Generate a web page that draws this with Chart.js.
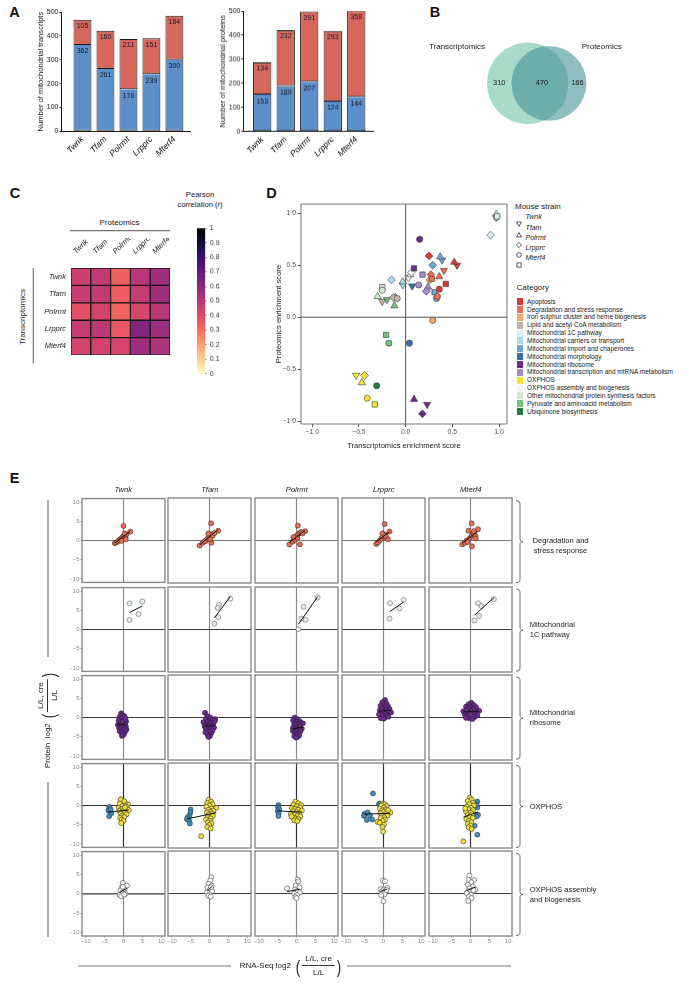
<!DOCTYPE html>
<html><head><meta charset="utf-8"><title>Figure</title>
<script src="https://cdn.jsdelivr.net/npm/chart.js@4.4.1/dist/chart.umd.min.js"></script>
<style>
html,body{margin:0;padding:0;background:#fff;}
#root{position:relative;width:689px;height:988px;overflow:hidden;font-family:"Liberation Sans",Arial,Helvetica,sans-serif;color:#222;}
.t{position:absolute;white-space:nowrap;line-height:1;}
</style></head><body><div id="root"></div>
<script>
// ================= DATA =================
const strains = ['Twnk','Tfam','Polrmt','Lrpprc','Mterf4'];
// Panel A
const transcriptsBlue = [362,261,176,239,300];
const transcriptsRed  = [105,160,211,151,184];
const proteinsBlue = [153,189,207,124,144];
const proteinsRed  = [134,232,291,293,358];
const barTicks = [0,100,200,300,400,500];
// Panel B
const vennSetNames = ['Transcriptomics','Proteomics'];
const vennCounts = [310,470,186]; // transcriptomics only, both, proteomics only
// Panel C (rows: transcriptomics, columns: proteomics)
const heatTwnk   = [0.45,0.48,0.34,0.50,0.56];
const heatTfam   = [0.46,0.48,0.35,0.47,0.56];
const heatPolrmt = [0.38,0.43,0.33,0.42,0.50];
const heatLrpprc = [0.47,0.49,0.36,0.63,0.56];
const heatMterf4 = [0.43,0.43,0.42,0.56,0.52];
const colorbarTicks = [0,0.1,0.2,0.3,0.4,0.5,0.6,0.7,0.8,0.9,1];
// Panel D
const dTicks = [-1,-0.5,0,0.5,1];
const categoryNames = ['Apoptosis','Degradation and stress response','Iron sulphur cluster and heme biogenesis','Lipid and acetyl CoA metabolism','Mitochondrial 1C pathway','Mitochondrial carriers or transport','Mitochondrial import and chaperones','Mitochondrial morphology','Mitochondrial ribosome','Mitochondrial transcription and mtRNA metabolism','OXPHOS','OXPHOS assembly and biogenesis','Other mitochondrial protein synthesis factors','Pyruvate and aminoacid metabolism','Ubiquinone biosynthesis'];
const dPointCat    = [0,0,0,0,0, 1,1,1,1,1, 2,2, 3,3,3,3, 4,4,4,4,4, 5,5,5, 6,6,6,6,6, 7,7, 8,8,8,8,8, 9,9,9,9, 10,10,10,10,10, 11,11,11, 12,12,12, 13,13,13,13, 14];
const dPointStrain = ['Twnk','Tfam','Polrmt','Lrpprc','Mterf4', 'Twnk','Tfam','Polrmt','Lrpprc','Mterf4', 'Lrpprc','Polrmt', 'Twnk','Tfam','Polrmt','Lrpprc', 'Twnk','Tfam','Polrmt','Lrpprc','Mterf4', 'Twnk','Tfam','Polrmt', 'Twnk','Tfam','Polrmt','Lrpprc','Mterf4', 'Twnk','Lrpprc', 'Lrpprc','Mterf4','Tfam','Twnk','Polrmt', 'Mterf4','Lrpprc','Tfam','Polrmt', 'Twnk','Tfam','Polrmt','Lrpprc','Mterf4', 'Twnk','Tfam','Polrmt', 'Tfam','Mterf4','Lrpprc', 'Twnk','Tfam','Mterf4','Lrpprc', 'Lrpprc'];
const dPointX = [0.55,0.52,0.25,0.36,0.43, 0.41,0.36,0.27,0.34,0.28, 0.29,0.26, -0.25,-0.11,-0.13,-0.09, 0.97,0.97,0.91,0.97,0.98, -0.03,-0.03,-0.15, 0.39,0.37,0.29,0.33,0.31, 0.07,0.04, 0.15,0.09,0.09,0.23,0.18, 0.18,0.14,0.24,0.22, -0.53,-0.47,-0.44,-0.41,-0.33, 0.03,0.05,0.06, -0.30,-0.25,-0.25, -0.20,-0.12,-0.21,-0.18, -0.31];
const dPointY = [0.50,0.53,0.59,0.27,0.32, 0.45,0.39,0.41,0.20,0.37, -0.03,0.36, 0.15,0.19,0.19,0.18, 0.96,0.99,0.79,0.96,0.97, 0.31,0.34,0.36, 0.55,0.58,0.50,0.18,0.24, 0.30,-0.25, 0.75,0.47,-0.79,-0.84,-0.93, 0.41,0.31,0.29,0.25, -0.56,-0.63,-0.56,-0.78,-0.84, 0.38,0.41,0.43, 0.20,0.29,0.26, 0.17,0.11,-0.17,-0.25, -0.66];
// Panel E  ([RNA-seq log2, protein log2] pairs)
const eTicks = [-10,-5,0,5,10];
const eDegTwnk   = [[-2.3,-0.7],[-1.9,-0.5],[-1.5,-0.2],[-1.1,0.1],[-0.8,0.4],[-0.4,0.7],[-0.1,1.0],[0.2,1.3],[0.5,0.9],[0.8,1.6],[0.3,1.8],[1.8,2.3],[0,3.8],[-0.5,-0.1],[0.6,0.3]];
const eDegTfam   = [[-2.6,-1.3],[-1.8,-0.6],[-1.0,-0.1],[-0.5,0.5],[0,1.0],[0.4,1.6],[0.8,1.2],[1.3,1.9],[2.3,2.5],[0.4,4.4],[0.5,-0.6],[-1.3,-0.2],[0.2,0.3],[-0.3,1.8]];
const eDegPolrmt = [[-1.9,-1.0],[-1.0,-0.3],[-0.5,0.5],[0,1.1],[0.4,1.6],[0.8,1.9],[1.2,2.2],[2.3,2.4],[0.35,3.8],[0.9,-1.0],[-0.3,0.2],[1.6,1.8],[0.2,0.6],[-0.8,0.9]];
const eDegLrpprc = [[-1.9,-0.9],[-1.5,-0.5],[-1.0,0.0],[-0.6,0.5],[-0.2,1.1],[0.3,1.6],[0.8,0.7],[1.2,0.3],[1.6,2.3],[0.3,4.2],[-0.3,1.8],[0.6,1.2]];
const eDegMterf4 = [[-2.2,-1.0],[-1.5,-0.6],[-1.0,0.0],[-0.2,0.6],[0.3,1.2],[0.8,1.6],[1.3,1.2],[2.0,2.9],[-0.5,2.5],[0.3,4.4],[0.4,-1.5],[1.4,0.5],[-0.8,-0.4],[0.9,2.4]];
const eOneCTwnk   = [[1.6,6.8],[5.0,7.3],[4.0,4.0],[1.6,2.5]];
const eOneCTfam   = [[2.5,6.3],[2.2,5.5],[2.3,3.2],[1.3,1.5],[5.5,7.9]];
const eOneCPolrmt = [[5.6,8.2],[1.9,5.8],[1.3,2.8],[2.4,2.5],[0.5,0.1]];
const eOneCLrpprc = [[1.75,6.75],[5.35,7.6],[4.2,5.4],[1.6,2.8]];
const eOneCMterf4 = [[2.0,6.75],[6.2,7.8],[2.9,6.0],[2.3,3.5],[1.05,2.3]];
const eRiboTwnk   = [[-0.6,1.1],[-0.2,0.6],[-1.0,0.2],[0.3,0.3],[-0.5,-0.3],[-1.3,-0.8],[0.1,-0.8],[0.7,-1.0],[-0.8,-1.2],[-0.3,-1.5],[0.4,-1.6],[-1.5,-1.9],[-0.9,-2.0],[0.0,-2.1],[0.6,-2.3],[-0.4,-2.5],[-1.2,-2.7],[0.3,-2.8],[-0.7,-3.0],[0.8,-3.1],[-0.1,-3.3],[-1.0,-3.6],[0.4,-3.7],[-0.5,-4.0],[0.1,-4.4],[-0.4,-4.8],[-0.2,-1.0],[0.5,-0.4]];
const eRiboTfam   = [[-1.2,1.2],[-0.6,0.4],[1.5,-0.4],[0.2,0.0],[-1.0,-0.5],[0.7,-0.6],[-0.3,-1.0],[-1.6,-1.2],[0.3,-1.4],[1.0,-1.6],[-0.8,-1.8],[0.0,-2.0],[-1.3,-2.2],[0.6,-2.3],[-0.4,-2.5],[1.2,-2.6],[-1.0,-2.8],[0.2,-3.0],[-0.6,-3.3],[0.8,-3.4],[-0.2,-3.7],[-1.1,-3.8],[0.4,-4.1],[-0.5,-4.4],[0.1,-4.8],[-0.3,-5.0],[1.4,-0.9]];
const eRiboPolrmt = [[-0.5,0.0],[0.2,-0.4],[-0.9,-0.7],[0.8,-0.9],[0.0,-1.2],[1.2,-1.4],[-0.6,-1.6],[0.4,-1.8],[1.7,-1.5],[-0.2,-2.1],[0.9,-2.3],[-0.9,-2.6],[0.2,-2.7],[1.4,-2.9],[-0.4,-3.0],[0.6,-3.2],[-1.0,-3.4],[0.0,-3.5],[1.0,-3.6],[-0.5,-3.9],[0.4,-4.1],[-0.2,-4.4],[0.7,-4.6],[-0.6,-4.8],[0.2,-5.0],[-0.1,-5.2]];
const eRiboLrpprc = [[0.4,4.5],[-0.3,3.9],[0.8,3.6],[0.0,3.2],[-0.8,3.0],[1.2,2.9],[0.3,2.6],[-0.5,2.3],[1.6,2.2],[0.7,2.0],[-1.0,1.8],[0.0,1.6],[1.0,1.4],[-0.6,1.2],[0.4,1.0],[2.0,1.3],[-1.2,0.8],[0.8,0.6],[-0.2,0.4],[0.3,0.0],[-0.7,-0.2],[0.1,-0.3],[1.3,0.2],[-0.4,1.7]];
const eRiboMterf4 = [[0.2,3.8],[-0.5,3.4],[0.9,3.2],[-1.2,2.8],[0.0,2.7],[1.5,2.6],[-0.6,2.3],[0.6,2.2],[-1.9,1.6],[2.3,1.7],[-1.0,1.8],[0.2,1.6],[1.2,1.5],[-0.4,1.2],[0.8,1.0],[-1.5,0.8],[1.8,0.6],[-0.8,0.4],[0.3,0.3],[1.1,0.1],[-0.3,-0.2],[0.5,-0.4],[-1.2,-0.1],[0.0,0.8]];
const eOxYTwnk   = [[-0.7,1.6],[0.2,1.1],[1.2,0.3],[-1.0,0.5],[0.5,0.0],[-0.3,-0.2],[0.9,-0.4],[-1.3,-0.6],[0.1,-0.8],[-0.6,-1.0],[0.6,-1.1],[1.4,-1.2],[-1.1,-1.4],[-0.2,-1.5],[0.3,-1.9],[-0.8,-2.1],[0.8,-2.3],[-0.4,-2.6],[0.2,-3.0],[-0.9,-3.2],[-0.5,-3.7],[0.0,-4.0],[-0.6,-4.6],[0.4,-0.5]];
const eOxBTwnk   = [[-3.8,-0.4],[-4.0,-1.3],[-3.5,-1.7],[-3.2,-2.0],[-3.8,-2.8],[-3.4,-1.0]];
const eOxYTfam   = [[-0.2,1.5],[0.4,1.0],[-0.6,0.6],[0.8,0.3],[0.0,0.0],[1.8,-0.6],[-0.8,-0.3],[0.5,-0.8],[-0.3,-1.1],[1.0,-1.3],[0.2,-1.6],[-0.7,-1.8],[0.6,-2.1],[-0.2,-2.4],[0.9,-2.7],[-0.5,-3.0],[0.3,-3.3],[-0.9,-3.6],[0.1,-3.9],[-0.4,-4.3],[0.5,-4.6],[-0.1,-5.0],[-0.6,-5.5],[0.3,-5.9],[-2.2,-7.9]];
const eOxBTfam   = [[-5.0,-1.0],[-5.1,-1.8],[-5.3,-2.6],[-5.8,-3.0],[-6.0,-3.5],[-5.4,-3.9],[-5.2,-4.6]];
const eOxYPolrmt = [[-0.3,1.0],[0.5,0.6],[1.2,0.1],[-0.8,0.2],[0.1,-0.2],[0.9,-0.5],[-1.2,-0.7],[-0.4,-0.9],[0.4,-1.1],[1.4,-1.3],[-0.9,-1.5],[0.0,-1.7],[0.7,-2.0],[-1.5,-2.2],[-0.5,-2.4],[0.3,-2.6],[1.0,-2.8],[-1.0,-3.0],[-0.2,-3.3],[0.5,-3.5],[-0.6,-3.8],[0.2,-4.0],[-1.3,-2.8]];
const eOxBPolrmt = [[-4.8,0.1],[-4.9,-0.5],[-4.6,-0.9],[-5.0,-1.4],[-4.7,-2.0],[-4.8,-2.7]];
const eOxYLrpprc = [[-0.2,0.5],[0.4,0.3],[-0.6,0.0],[0.8,-0.2],[0.1,-0.5],[-1.0,-0.8],[1.8,-1.8],[0.5,-1.0],[-0.3,-1.3],[1.2,-1.2],[0.0,-1.7],[-0.8,-2.0],[0.6,-2.2],[-0.4,-2.6],[1.0,-2.6],[-1.6,-4.2],[0.2,-3.0],[-0.7,-3.2],[0.4,-3.6],[-0.2,-4.0],[-1.0,-4.4],[0.1,-4.9],[-0.3,-5.5],[-0.1,-6.7]];
const eOxBLrpprc = [[-2.8,3.1],[-1.2,0.4],[-1.0,0.5],[-5.0,-2.1],[-4.2,-1.8],[-4.4,-3.7],[-3.0,-3.6],[-5.2,-2.6],[-3.6,-2.5]];
const eOxYMterf4 = [[-0.2,2.0],[0.3,1.5],[-0.7,1.1],[0.6,0.7],[-0.3,0.3],[0.9,0.0],[-1.0,-0.3],[0.1,-0.6],[-0.5,-1.0],[0.7,-1.2],[-1.2,-1.5],[0.0,-1.8],[0.4,-2.2],[-0.8,-2.5],[-0.2,-2.9],[0.6,-3.2],[-1.1,-3.5],[-0.4,-3.9],[0.2,-4.3],[-0.7,-4.7],[0.0,-5.2],[-0.5,-5.6],[0.3,-6.0],[-1.9,-9.2],[-1.4,-0.8]];
const eOxBMterf4 = [[1.8,1.0],[1.8,-0.5],[1.1,-2.5],[2.0,-2.4],[1.6,-2.8],[0.7,-2.2],[1.1,-5.2],[1.8,-7.5],[1.5,0.2]];
const eAsmTwnk   = [[-0.2,2.8],[0.9,2.1],[-0.5,1.6],[0.3,1.2],[-0.8,0.8],[0.1,0.5],[-0.4,0.2],[0.5,0.0],[-1.0,-0.3],[-0.6,-0.6],[0.2,-0.2],[-0.2,1.8]];
const eAsmTfam   = [[0.5,4.2],[0.2,3.3],[-0.3,2.5],[0.6,2.0],[-0.5,1.5],[0.1,1.0],[0.7,0.6],[-0.6,0.3],[0.0,-0.2],[-0.3,-0.6],[0.3,-0.8],[0.4,1.6]];
const eAsmPolrmt = [[0.3,3.6],[0.5,3.1],[-2.5,1.3],[-0.2,2.0],[0.8,1.6],[-0.4,1.0],[0.2,0.6],[0.9,0.3],[-0.6,0.0],[0.1,-0.4],[-0.3,-0.9],[0.0,-1.2]];
const eAsmLrpprc = [[-0.2,3.3],[0.4,3.1],[-0.8,1.1],[1.0,1.4],[0.1,1.0],[-0.4,0.6],[0.6,0.6],[-0.1,0.2],[0.3,-0.2],[-0.6,-0.4],[0.0,-2.0],[0.8,0.9]];
const eAsmMterf4 = [[-0.3,4.6],[-0.5,3.5],[1.0,3.5],[0.2,2.9],[-0.7,2.2],[0.6,1.8],[-0.2,1.3],[1.3,1.0],[-0.6,0.6],[0.4,0.3],[-1.0,0.1],[0.1,-0.3],[-0.4,-0.8],[0.3,-1.2],[-0.6,-1.9],[0.8,0.9]];

// ================= STYLE =================
const FONT = '"Liberation Sans", Arial, Helvetica, sans-serif';
const categoryColors = ['#d93a31','#f06d4b','#fca66a','#c4b4a5','#dbeff5','#a9dbec','#68a8d6','#3a6db3','#6a2b8c','#a68bc6','#f5e52e','#f4f4f4','#d0ebcf','#72c37c','#1f7f3e'];
const magmaStops = ['#fcfdbf','#fecf92','#fe9f6d','#f7705c','#de4968','#b73779','#8c2981','#641a80','#3b0f70','#140e36','#000004'];
const strainStyle = {Twnk:'triangle',Tfam:'triangle',Polrmt:'rectRot',Lrpprc:'circle',Mterf4:'rect'};
const strainRadius = {Twnk:4.2,Tfam:4.2,Polrmt:3.9,Lrpprc:3.1,Mterf4:3.8};

Chart.defaults.font.family = FONT;
Chart.defaults.font.size = 7;
Chart.defaults.color = '#333';
Chart.defaults.animation = false;
Chart.defaults.responsive = true;
Chart.defaults.maintainAspectRatio = false;
Chart.defaults.plugins.legend.display = false;
Chart.defaults.plugins.tooltip.enabled = false;
Chart.defaults.events = [];

const root = document.getElementById('root');
const svgNS = 'http://www.w3.org/2000/svg';
const overlay = document.createElementNS(svgNS,'svg');
overlay.setAttribute('width','689'); overlay.setAttribute('height','988');
overlay.style.cssText = 'position:absolute;left:0;top:0;pointer-events:none;';
root.appendChild(overlay);
function sLine(x1,y1,x2,y2,c,w){const l=document.createElementNS(svgNS,'line');l.setAttribute('x1',x1);l.setAttribute('y1',y1);l.setAttribute('x2',x2);l.setAttribute('y2',y2);l.setAttribute('stroke',c);l.setAttribute('stroke-width',w);overlay.appendChild(l);}
function sPath(d,c,w){const p=document.createElementNS(svgNS,'path');p.setAttribute('d',d);p.setAttribute('stroke',c);p.setAttribute('stroke-width',w);p.setAttribute('fill','none');overlay.appendChild(p);}
function T(text,x,y,o){o=o||{};const d=document.createElement('div');d.className='t';d.textContent=text;d.style.left=x+'px';d.style.top=y+'px';d.style.fontSize=(o.size||8)+'px';if(o.bold)d.style.fontWeight='bold';if(o.italic)d.style.fontStyle='italic';if(o.color)d.style.color=o.color;const ax=o.align==='left'?'0':(o.align==='right'?'-100%':'-50%');d.style.transform='translate('+ax+',-50%)'+(o.rot?' rotate('+o.rot+'deg)':'');root.appendChild(d);return d;}

function place(plot, axes, extra){
  const [l,t,r,b]=plot; const a=Object.assign({l:0,t:0,r:0,b:0},axes||{}); const e=Object.assign({l:0,t:0,r:0,b:0},extra||{});
  return {left:l-a.l-e.l, top:t-a.t-e.t, width:(r-l)+a.l+a.r+e.l+e.r, height:(b-t)+a.t+a.b+e.t+e.b, padding:{left:e.l,top:e.t,right:e.r,bottom:e.b}};
}
function makeChart(plot, axes, extra, config){
  const p=place(plot,axes,extra);
  const div=document.createElement('div');
  div.style.cssText='position:absolute;left:'+p.left+'px;top:'+p.top+'px;width:'+p.width+'px;height:'+p.height+'px;';
  const cv=document.createElement('canvas'); div.appendChild(cv); root.appendChild(div);
  config.options=config.options||{};
  config.options.layout={padding:p.padding, autoPadding:false};
  return new Chart(cv, config);
}
function hex(h){return [parseInt(h.slice(1,3),16),parseInt(h.slice(3,5),16),parseInt(h.slice(5,7),16)];}
function magma(v){const n=magmaStops.length-1;const t=Math.max(0,Math.min(1,v))*n;const i=Math.min(Math.floor(t),n-1);const f=t-i;const a=hex(magmaStops[i]),b=hex(magmaStops[i+1]);return 'rgb('+Math.round(a[0]+(b[0]-a[0])*f)+','+Math.round(a[1]+(b[1]-a[1])*f)+','+Math.round(a[2]+(b[2]-a[2])*f)+')';}
function minusFmt(v,dec){const s=dec?Math.abs(v).toFixed(dec):String(Math.abs(v));return v<0?'\u2212'+s:s;}

// generic decoration plugin: frame + zero lines
const deco = {
  id:'deco',
  beforeDatasetsDraw(chart,args,o){
    if(!o||!o.on) return; const {ctx,chartArea:a,scales}=chart; ctx.save();
    if(o.zeroX){const px=scales.x.getPixelForValue(0);ctx.strokeStyle=o.zeroX;ctx.lineWidth=o.zeroW||1;ctx.beginPath();ctx.moveTo(px,a.top);ctx.lineTo(px,a.bottom);ctx.stroke();}
    if(o.zeroY){const py=scales.y.getPixelForValue(0);ctx.strokeStyle=o.zeroY;ctx.lineWidth=o.zeroW||1;ctx.beginPath();ctx.moveTo(a.left,py);ctx.lineTo(a.right,py);ctx.stroke();}
    ctx.restore();
  },
  afterDatasetsDraw(chart,args,o){
    if(!o||!o.on||!o.frame) return; const {ctx,chartArea:a}=chart; ctx.save();
    ctx.strokeStyle=o.frame; ctx.lineWidth=o.frameW||1; ctx.strokeRect(a.left,a.top,a.right-a.left,a.bottom-a.top); ctx.restore();
  }
};
Chart.register(deco);

// ================= PANEL LETTERS =================
T('A',14.5,11.7,{size:14.5,bold:true,color:'#111'});
T('B',435,12,{size:14.5,bold:true,color:'#111'});
T('C',15,193.3,{size:14.5,bold:true,color:'#111'});
T('D',271.5,192.5,{size:14.5,bold:true,color:'#111'});
T('E',14.5,477.5,{size:14.5,bold:true,color:'#111'});

// ================= PANEL A =================
const barLabels = {
  id:'barLabels',
  afterDatasetsDraw(chart){
    const ctx=chart.ctx; ctx.save(); ctx.font='7px '+FONT; ctx.fillStyle='#1c1c2a'; ctx.textAlign='center'; ctx.textBaseline='middle';
    chart.data.datasets.forEach((ds,di)=>{chart.getDatasetMeta(di).data.forEach((el,i)=>{ctx.fillText(String(ds.data[i].y),el.x,el.y+6.5);});});
    ctx.restore();
  }
};
function stackedBars(plot, lower, upper, title, xmin, xmax){
  const yw=25.5, xh=32;
  makeChart(plot,{l:yw,b:xh},{t:6,r:5},{
    type:'bar',
    data:{datasets:[
      {data:strains.map((s,i)=>({x:i+1,y:lower[i]})),backgroundColor:'#5b8fca',borderColor:'#1b1b1b',borderWidth:1,borderSkipped:'top',barPercentage:0.78,categoryPercentage:1},
      {data:strains.map((s,i)=>({x:i+1,y:upper[i]})),backgroundColor:'#d5675d',borderColor:'#1b1b1b',borderWidth:1,borderSkipped:false,barPercentage:0.78,categoryPercentage:1}
    ]},
    options:{scales:{
      x:{type:'linear',min:xmin,max:xmax,stacked:true,offset:false,grid:{display:false,drawTicks:false},border:{color:'#1b1b1b',width:1},
         afterBuildTicks:s=>{s.ticks=strains.map((_,i)=>({value:i+1}));},
         ticks:{autoSkip:false,minRotation:45,maxRotation:45,padding:3,color:'#111',font:{size:8.5,style:'italic'},callback:v=>strains[v-1]},
         afterFit:s=>{s.height=xh;}},
      y:{stacked:true,min:0,max:500,afterBuildTicks:s=>{s.ticks=barTicks.map(v=>({value:v}));},
         ticks:{color:'#222',font:{size:7},padding:1},grid:{drawOnChartArea:false,tickLength:2,color:'#1b1b1b'},border:{color:'#1b1b1b',width:1},
         title:{display:true,text:title,font:{size:7.6},color:'#222',padding:0},afterFit:s=>{s.width=yw;}}
    }},
    plugins:[barLabels]
  });
}
stackedBars([61,11.7,190,131], transcriptsBlue, transcriptsRed, 'Number of mitochondrial transcripts', 0.087, 5.7);
stackedBars([243,11.3,372.7,131], proteinsBlue, proteinsRed, 'Number of mitochondrial proteins', 0.204, 5.72);

// ================= PANEL B (Venn) =================
(function(){
  const plot=[480,38,595,130]; const W=plot[2]-plot[0], H=plot[3]-plot[1];
  const totT=vennCounts[0]+vennCounts[1], totP=vennCounts[2]+vennCounts[1];
  const k=40.8/Math.sqrt(totT); const r1=k*Math.sqrt(totT), r2=k*Math.sqrt(totP);
  function lens(d){const a1=Math.acos((d*d+r1*r1-r2*r2)/(2*d*r1)),a2=Math.acos((d*d+r2*r2-r1*r1)/(2*d*r2));return r1*r1*a1+r2*r2*a2-0.5*Math.sqrt((-d+r1+r2)*(d+r1-r2)*(d-r1+r2)*(d+r1+r2));}
  const target=vennCounts[1]/totT*Math.PI*r1*r1; let lo=Math.abs(r1-r2)+1e-6, hi=r1+r2-1e-6;
  for(let i=0;i<60;i++){const m=(lo+hi)/2; if(lens(m)>target) lo=m; else hi=m;}
  const d=(lo+hi)/2; const span=r1+d+r2; const cx1=(536.65-plot[0])-span/2+r1; const cy=83.4-plot[1];
  const vennNums={id:'vennNums',afterDatasetsDraw(chart){
    const m=chart.getDatasetMeta(0).data; const e1=m[0],e2=m[1]; const R1=e1.options.radius,R2=e2.options.radius;
    const L1=e1.x-R1,L2=e2.x-R2,Rt1=e1.x+R1,Rt2=e2.x+R2; const ctx=chart.ctx; ctx.save(); ctx.font='7.5px '+FONT; ctx.fillStyle='#222'; ctx.textAlign='center'; ctx.textBaseline='middle';
    ctx.fillText(String(vennCounts[0]),(L1+L2)/2,e1.y); ctx.fillText(String(vennCounts[1]),(L2+Rt1)/2+2,e1.y); ctx.fillText(String(vennCounts[2]),(Rt1+Rt2)/2,e1.y); ctx.restore();}};
  makeChart(plot,{},{},{
    type:'bubble',
    data:{datasets:[{data:[{x:cx1,y:cy,r:r1},{x:cx1+d,y:cy,r:r2}],backgroundColor:['rgba(95,190,155,0.55)','rgba(70,145,150,0.6)'],borderWidth:0}]},
    options:{scales:{x:{type:'linear',display:false,min:0,max:W},y:{type:'linear',display:false,min:0,max:H,reverse:true}}},
    plugins:[vennNums]
  });
  T(vennSetNames[0],457,47.3,{size:8});
  T(vennSetNames[1],601.7,47.3,{size:8});
})();

// ================= PANEL C (heatmap) =================
(function(){
  const rows=[heatTwnk,heatTfam,heatPolrmt,heatLrpprc,heatMterf4];
  makeChart([70.7,267.7,169.7,364.3],{l:40,t:30},{r:22},{
    type:'bar',
    data:{labels:strains,datasets:rows.slice().reverse().map(row=>({data:row.map(()=>1),backgroundColor:row.map(magma),borderColor:'#151515',borderWidth:1,borderSkipped:false,barPercentage:1,categoryPercentage:1}))},
    options:{scales:{
      x:{position:'top',stacked:true,grid:{display:false,drawTicks:false},border:{display:false},
         ticks:{autoSkip:false,minRotation:45,maxRotation:45,padding:12,color:'#222',font:{size:7.5,style:'italic'}},afterFit:s=>{s.height=30;}},
      y:{stacked:true,min:0,max:5,grid:{display:false,drawTicks:false},border:{display:false},
         afterBuildTicks:s=>{s.ticks=strains.map((_,i)=>({value:4.5-i}));},
         ticks:{padding:5,color:'#222',font:{size:7.5,style:'italic'},callback:v=>strains[Math.round(4.5-v)]},afterFit:s=>{s.width=40;}}
    }}
  });
  T('Proteomics',119.5,223,{size:8});
  sLine(70,230.7,170,230.7,'#777',1.2);
  T('Transcriptomics',22.7,316.5,{size:8,rot:-90});
  sLine(33.3,268,33.3,363.5,'#777',1.2);
  // colour bar
  makeChart([196.7,225.8,205,374.7],{r:18},{t:5,b:5,r:2},{
    type:'bar',
    data:{labels:['r'],datasets:[{data:[[0,1]],barPercentage:1,categoryPercentage:1,borderWidth:0,
      backgroundColor:(c)=>{const a=c.chart.chartArea;if(!a)return '#888';const g=c.chart.ctx.createLinearGradient(0,a.bottom,0,a.top);magmaStops.forEach((col,i)=>g.addColorStop(i/(magmaStops.length-1),col));return g;}}]},
    options:{scales:{x:{display:false},
      y:{position:'right',min:0,max:1,afterBuildTicks:s=>{s.ticks=colorbarTicks.map(v=>({value:v}));},
         ticks:{padding:3,color:'#333',font:{size:7},callback:v=>String(v)},grid:{drawOnChartArea:false,tickLength:1.5,color:'#999'},border:{display:false},afterFit:s=>{s.width=18;}}}}
  });
  T('Pearson',200,195,{size:7.6});
  const pc=T('',200,205,{size:7.6}); pc.innerHTML='correlation (<i>r</i>)';
})();

// ================= PANEL D (scatter) =================
(function(){
  const datasets=categoryNames.map((name,ci)=>({
    label:name,
    data:dPointCat.map((c,i)=>c===ci?{x:dPointX[i],y:dPointY[i],s:dPointStrain[i]}:null).filter(Boolean),
    backgroundColor:categoryColors[ci],borderColor:'#3c3c3c',borderWidth:0.6,
    pointStyle:ctx=>strainStyle[ctx.raw?ctx.raw.s:'Lrpprc'],
    pointRadius:ctx=>strainRadius[ctx.raw?ctx.raw.s:'Lrpprc'],
    pointRotation:ctx=>(ctx.raw&&ctx.raw.s==='Twnk')?180:0
  }));
  const axisCommon={afterBuildTicks:s=>{s.ticks=dTicks.map(v=>({value:v}));},grid:{drawOnChartArea:false,tickLength:3,color:'#555'},border:{display:false}};
  makeChart([301,203,507,424],{l:27,b:26},{t:5,r:4},{
    type:'scatter',
    data:{datasets},
    options:{plugins:{deco:{on:true,zeroX:'#555',zeroY:'#555',zeroW:1,frame:'#666',frameW:0.9}},
      scales:{
        x:Object.assign({min:-1.12,max:1.085,ticks:{padding:1,color:'#555',font:{size:6.8},callback:v=>minusFmt(v,1)},title:{display:true,text:'Transcriptomics enrichment score',font:{size:7.6},color:'#222',padding:0},afterFit:s=>{s.height=26;}},axisCommon),
        y:Object.assign({min:-1.028,max:1.089,ticks:{padding:2,color:'#555',font:{size:6.8},callback:v=>minusFmt(v,1)},title:{display:true,text:'Proteomics enrichment score',font:{size:7.6},color:'#222',padding:0},afterFit:s=>{s.width=27;}},axisCommon)
      }}
  });
  // legend
  T('Mouse strain',515,206.5,{size:8,align:'left'});
  const sym={Twnk:'<polygon points="0.6,1 5.4,1 3,5.4"/>',Tfam:'<polygon points="3,0.6 5.4,5 0.6,5"/>',Polrmt:'<polygon points="3,0.4 5.6,3 3,5.6 0.4,3"/>',Lrpprc:'<circle cx="3" cy="3" r="2.3"/>',Mterf4:'<rect x="0.9" y="0.9" width="4.2" height="4.2"/>'};
  strains.forEach((s,i)=>{
    const cy=216.3+10.25*i;
    const d=document.createElement('div'); d.style.cssText='position:absolute;left:516px;top:'+(cy-3)+'px;width:6px;height:6px;';
    d.innerHTML='<svg width="6" height="6" viewBox="0 0 6 6" fill="none" stroke="#333" stroke-width="0.8">'+sym[s]+'</svg>'; root.appendChild(d);
    T(s,525.5,cy,{size:7,italic:true,align:'left'});
  });
  T('Category',516.5,287.5,{size:8,align:'left'});
  categoryNames.forEach((n,i)=>{
    const cy=301.7+7.85*i;
    const d=document.createElement('div'); d.style.cssText='position:absolute;left:516.7px;top:'+(cy-3.5)+'px;width:6px;height:7px;background:'+categoryColors[i]+';';
    root.appendChild(d);
    T(n,527,cy,{size:6.5,align:'left'});
  });
})();

// ================= PANEL E (small multiples) =================
(function(){
  const eColL=[81.7,168.3,255.3,342.3,429.3], eRowT=[498.3,586.7,674.7,763,851], eW=83, eH=85;
  const rowSpecs=[
    {series:[[eDegTwnk,eDegTfam,eDegPolrmt,eDegLrpprc,eDegMterf4]],colors:['#e9704f'],border:'#3a2a25',zeroX:'#8c8c8c',zeroY:'#7a7a7a'},
    {series:[[eOneCTwnk,eOneCTfam,eOneCPolrmt,eOneCLrpprc,eOneCMterf4]],colors:['#e4eff2'],border:'#666',zeroX:'#8c8c8c',zeroY:'#3a3a3a'},
    {series:[[eRiboTwnk,eRiboTfam,eRiboPolrmt,eRiboLrpprc,eRiboMterf4]],colors:['#6c2d8f'],border:'#2a1a35',zeroX:'#8c8c8c',zeroY:'#3a3a3a'},
    {series:[[eOxYTwnk,eOxYTfam,eOxYPolrmt,eOxYLrpprc,eOxYMterf4],[eOxBTwnk,eOxBTfam,eOxBPolrmt,eOxBLrpprc,eOxBMterf4]],colors:['#f2e23a','#3d8fc4'],border:'#333',zeroX:'#333',zeroY:'#333'},
    {series:[[eAsmTwnk,eAsmTfam,eAsmPolrmt,eAsmLrpprc,eAsmMterf4]],colors:['#ffffff'],border:'#444',zeroX:'#8c8c8c',zeroY:'#3a3a3a'}
  ];
  function fit(pts){const n=pts.length;let sx=0,sy=0,sxx=0,sxy=0;pts.forEach(([x,y])=>{sx+=x;sy+=y;sxx+=x*x;sxy+=x*y;});const b=(n*sxy-sx*sy)/(n*sxx-sx*sx);const a=(sy-b*sx)/n;const xs=pts.map(p=>p[0]);const x0=Math.min(...xs),x1=Math.max(...xs);return [{x:x0,y:a+b*x0},{x:x1,y:a+b*x1}];}
  const tickFmt=v=>minusFmt(v);
  rowSpecs.forEach((spec,r)=>{
    strains.forEach((s,c)=>{
      const l=eColL[c], t=eRowT[r];
      const showY=c===0, showX=r===4;
      const all=[]; spec.series.forEach(ser=>ser[c].forEach(p=>all.push(p)));
      const datasets=spec.series.map((ser,si)=>({data:ser[c].map(p=>({x:p[0],y:p[1]})),backgroundColor:spec.colors[si],borderColor:spec.border,borderWidth:0.6,pointRadius:2.5,order:2}));
      datasets.push({data:fit(all),showLine:true,pointRadius:0,borderColor:'#111',borderWidth:1,order:0});
      makeChart([l,t,l+eW,t+eH],{l:showY?14:0,b:showX?11:0},{t:4,b:showX?0:4,l:showY?0:7,r:7},{
        type:'scatter',
        data:{datasets},
        options:{plugins:{deco:{on:true,zeroX:spec.zeroX,zeroY:spec.zeroY,zeroW:1.2,frame:'#8a8a8a',frameW:1.4}},
          scales:{
            x:{min:-11,max:11,display:showX,afterBuildTicks:s=>{s.ticks=eTicks.map(v=>({value:v}));},ticks:{padding:0.5,color:'#888',font:{size:6},callback:tickFmt},grid:{drawOnChartArea:false,tickLength:1.5,color:'#999'},border:{display:false},afterFit:s=>{s.height=showX?11:0;}},
            y:{min:-10.9,max:10.9,display:showY,afterBuildTicks:s=>{s.ticks=eTicks.map(v=>({value:v}));},ticks:{padding:1,color:'#888',font:{size:6},callback:tickFmt},grid:{drawOnChartArea:false,tickLength:1.5,color:'#999'},border:{display:false},afterFit:s=>{s.width=showY?14:0;}}
          }}
      });
    });
  });
  strains.forEach((s,c)=>T(s,eColL[c]+eW/2,490.3,{size:7.6,italic:true}));
  // brackets & row labels
  const rowLabels=[['Degradation and','stress response'],['Mitochondrial','1C pathway'],['Mitochondrial','ribosome'],['OXPHOS'],['OXPHOS assembly','and biogenesis']];
  eRowT.forEach((t,r)=>{
    const top=t+2.5, bot=t+eH-0.5, mid=(top+bot)/2;
    sPath('M516 '+top+' C519 '+top+' 520 '+(top+1)+' 520 '+(top+4)+' L520 '+(mid-3)+' C520 '+(mid-1)+' 521 '+mid+' 523 '+mid+' C521 '+mid+' 520 '+(mid+1)+' 520 '+(mid+3)+' L520 '+(bot-4)+' C520 '+(bot-1)+' 519 '+bot+' 516 '+bot,'#444',0.8);
    const lines=rowLabels[r];
    if(r===0){T(lines[0],560.5,mid-0.5,{size:7.6});T(lines[1],560.5,mid+9.5,{size:7.6});}
    else if(lines.length===1){T(lines[0],529.7,mid,{size:7.6,align:'left'});}
    else {T(lines[0],529.7,mid-5,{size:7.6,align:'left'});T(lines[1],529.7,mid+5,{size:7.6,align:'left'});}
  });
  // axis titles with fractions
  function fracTitle(prefix,cx,cy,rot){
    const d=document.createElement('div'); d.className='t';
    d.style.cssText+='display:flex;align-items:center;font-size:8px;left:'+cx+'px;top:'+cy+'px;transform:translate(-50%,-50%)'+(rot?' rotate(-90deg)':'')+';';
    d.innerHTML='<span>'+prefix+'</span><span style="font-size:19px;font-weight:300;margin:0 1px 0 4px;display:inline-block;transform:scaleX(0.7)">(</span>'+
      '<span style="display:inline-flex;flex-direction:column;align-items:stretch;text-align:center"><span style="padding:0 3px 2px">L/L, cre</span><span style="border-top:0.9px solid #333;padding-top:3px">L/L</span></span>'+
      '<span style="font-size:19px;font-weight:300;margin:0 0 0 1px;display:inline-block;transform:scaleX(0.7)">)</span>';
    root.appendChild(d); return d;
  }
  fracTitle('RNA-Seq log2',291,966,false);
  sLine(78,966,231,966,'#777',1.2); sLine(347,966,511,966,'#777',1.2);
  fracTitle('Protein\u00a0\u00a0log2',48,720,true);
  sLine(48,500,48,657,'#777',1.2); sLine(48,782,48,937,'#777',1.2);
})();
</script></body></html>
